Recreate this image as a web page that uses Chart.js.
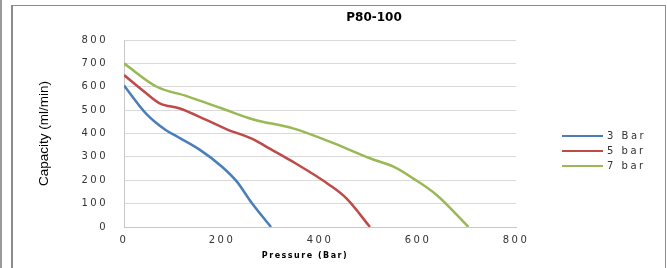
<!DOCTYPE html>
<html>
<head>
<meta charset="utf-8">
<script src="https://cdn.jsdelivr.net/npm/chart.js@4"></script>
<style>
	body { margin: 0; background: #fff; }
	.wrap { position: relative; width: 667px; height: 268px; }
	.edge { position: absolute; background: #8c8c8c; }
	canvas { position: absolute; left: 0; top: 0; }
</style>
</head>
<body>
<div class="wrap">
	<div class="edge" style="left:0;top:0;width:2px;height:268px;background:#9a9a9a"></div>
	<div class="edge" style="left:11px;top:5px;width:2px;height:263px"></div>
	<div class="edge" style="left:11px;top:5px;width:655px;height:1px"></div>
	<div class="edge" style="left:665px;top:5px;width:1px;height:263px"></div>
	<canvas class="chart" width="667" height="268"></canvas>
</div>
<script>
const chartTitle = 'P80-100';
const xTitle = 'Pressure (Bar)';
const yTitle = 'Capacity (ml/min)';
const seriesNames = ['3 Bar', '5 bar', '7 bar'];
const seriesColors = ['#4a7ebb', '#be4b48', '#98b954'];

// pressure (x) and capacity (y)
const pressure3 = [0, 45, 85, 110, 155, 200, 230, 260, 300];
const capacity3 = [605, 485, 415, 385, 330, 258, 195, 105, 0];
const pressure5 = [0, 46, 73, 114, 169, 210, 267, 291, 339, 420, 454, 502];
const capacity5 = [650, 571, 529, 507, 457, 418, 372, 343, 286, 179, 122, 0];
const pressure7 = [0, 67, 128, 196, 264, 345, 420, 502, 550, 590, 638, 703];
const capacity7 = [700, 600, 560, 510, 460, 422, 365, 294, 258, 208, 137, 0];

const xTicks = [0, 200, 400, 600, 800];
const yTicks = [0, 100, 200, 300, 400, 500, 600, 700, 800];

const toPoints = (xs, ys) => xs.map((x, i) => ({ x: x, y: ys[i] }));
const allSeries = [
	toPoints(pressure3, capacity3),
	toPoints(pressure5, capacity5),
	toPoints(pressure7, capacity7),
];

const tickFont = { family: 'DejaVu Sans', size: 10 };
const wideSpacing = '2.5px';

// extra text: title, axis titles and the legend at the right
const extras = {
	id: 'extras',
	beforeDraw: (chart) => {
		chart.ctx.letterSpacing = wideSpacing;
	},
	afterDraw: (chart) => {
		const ctx = chart.ctx;
		const area = chart.chartArea;
		ctx.save();
		ctx.letterSpacing = '0px';
		ctx.fillStyle = '#000';
		ctx.textBaseline = 'middle';
		ctx.textAlign = 'center';
		ctx.font = 'bold 12px "DejaVu Sans"';
		ctx.fillText(chartTitle, 374, 18);

		ctx.save();
		ctx.translate(44, (area.top + area.bottom) / 2);
		ctx.rotate(-Math.PI / 2);
		ctx.font = '13.5px "Liberation Sans"';
		ctx.fillText(yTitle, 0, 0);
		ctx.restore();

		ctx.letterSpacing = '1.5px';
		ctx.font = 'bold 8px "DejaVu Sans"';
		ctx.fillText(xTitle, 305, 256);

		ctx.letterSpacing = wideSpacing;
		ctx.font = '10px "DejaVu Sans"';
		ctx.textAlign = 'left';
		chart.data.datasets.forEach((ds, i) => {
			const y = 136 + i * 15;
			ctx.strokeStyle = ds.borderColor;
			ctx.lineWidth = 2;
			ctx.beginPath();
			ctx.moveTo(562, y);
			ctx.lineTo(603, y);
			ctx.stroke();
			ctx.fillStyle = '#333';
			ctx.fillText(ds.label, 607, y);
		});
		ctx.restore();
	},
};

const ctx = document.querySelector('.chart');
new Chart(ctx, {
	type: 'scatter',
	data: {
		datasets: allSeries.map((pts, i) => ({
			label: seriesNames[i],
			data: pts,
			showLine: true,
			borderColor: seriesColors[i],
			backgroundColor: seriesColors[i],
			borderWidth: 2.5,
			pointRadius: 0,
			cubicInterpolationMode: 'monotone',
		})),
	},
	options: {
		responsive: false,
		animation: false,
		layout: { padding: { left: 12, top: 40, right: 151, bottom: 0 } },
		plugins: {
			legend: { display: false },
			title: { display: false },
			tooltip: { enabled: false },
		},
		scales: {
			x: {
				type: 'linear',
				min: xTicks[0],
				max: xTicks[xTicks.length - 1],
				afterBuildTicks: (scale) => {
					scale.ticks = xTicks.map((v) => ({ value: v }));
				},
				afterFit: (scale) => {
					scale.height = 41;
				},
				grid: { display: false, drawTicks: false },
				border: { color: '#c8c8c8', width: 1 },
				ticks: { font: tickFont, color: '#333', padding: 7, maxRotation: 0 },
			},
			y: {
				min: yTicks[0],
				max: yTicks[yTicks.length - 1],
				afterBuildTicks: (scale) => {
					scale.ticks = yTicks.map((v) => ({ value: v }));
				},
				afterFit: (scale) => {
					scale.width = 112;
				},
				grid: { color: '#d9d9d9', drawTicks: false },
				border: { color: '#c8c8c8', width: 1 },
				ticks: { font: tickFont, color: '#333', padding: 16 },
			},
		},
	},
	plugins: [extras],
});
</script>
</body>
</html>
